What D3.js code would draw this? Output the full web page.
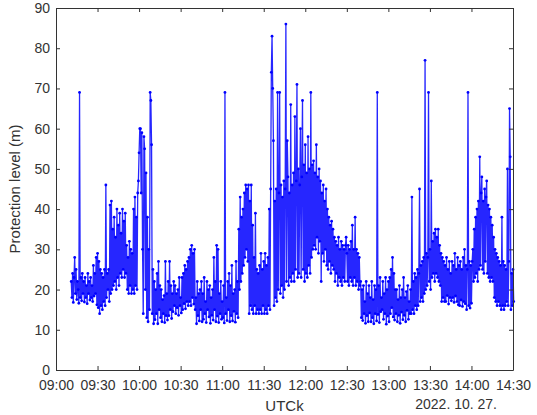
<!DOCTYPE html>
<html>
<head>
<meta charset="utf-8">
<script src="https://cdn.jsdelivr.net/npm/d3@7"></script>
<style>
  body { margin: 0; background: #fff; }
  .axis text { font-family: "Liberation Sans", Arial, sans-serif; font-size: 14px; fill: #333; }
  .axis path, .axis line { stroke: #333; }
  .axis-title { font-family: "Liberation Sans", Arial, sans-serif; fill: #333; }
</style>
</head>
<body>
<div class="pl-div"></div>
<script>
// x tick labels (every 30 minutes) and y ticks
const xTickLabels = ["09:00", "09:30", "10:00", "10:30", "11:00", "11:30",
  "12:00", "12:30", "13:00", "13:30", "14:00", "14:30"];
const yTicks = [0, 10, 20, 30, 40, 50, 60, 70, 80, 90];
const dateLabel = "2022. 10. 27.";
const xTitle = "UTCk";
const yTitle = "Protection level (m)";

// protection level (m), one row = 5 minutes, one value every 30 s, first row starts 09:11
const firstRow = "09:11";
const levelRows = [
  [22, 18, 24, 16.8, 23, 28, 19, 25, 17.5, 22], // 09:11
  [20, 16.6, 69, 18, 23, 17.2, 24, 19, 22, 16.9], // 09:16
  [23, 18, 21, 16.5, 24, 19, 22, 17.4, 23, 18], // 09:21
  [21, 17, 26, 18.4, 24, 19, 28, 16.2, 29, 15.5], // 09:26
  [27, 14, 25, 16, 24, 15, 23, 17, 25, 16], // 09:31
  [46, 18, 24, 20, 25, 17, 41, 19, 42, 20], // 09:36
  [35, 21, 38, 22, 33, 20, 40, 23, 36, 21], // 09:41
  [39, 24, 34, 23, 40, 25, 37, 23, 39, 24], // 09:46
  [31, 20, 28, 19, 32, 21, 30, 19, 29, 20], // 09:51
  [40, 19, 43, 21, 38, 20, 44, 47, 54, 60], // 09:56
  [60, 44, 59, 30, 14, 58, 55, 20, 49, 13], // 10:01
  [38, 12, 30, 15, 69, 67, 56, 14, 25, 11.5], // 10:06
  [22, 12.5, 20, 14, 24, 11.5, 27, 15, 21, 13], // 10:11
  [20, 12, 17.5, 14, 18.5, 11.8, 27, 13.5, 19, 12.4], // 10:16
  [22, 13.5, 27, 15, 21, 12.8, 19, 14.5, 22, 16], // 10:21
  [21, 14, 19, 15.5, 20, 13.6, 23, 16, 18, 14.2], // 10:26
  [23, 15, 24, 16.5, 26, 15.2, 25, 17, 27, 16], // 10:31
  [28, 17, 30, 16, 31, 18, 29, 16.4, 30, 15], // 10:36
  [18, 11.5, 22, 13.5, 19, 12.2, 20, 15, 22, 12], // 10:41
  [19, 12.6, 23, 14, 17, 11.8, 22, 15, 20, 13.2], // 10:46
  [21, 11.6, 18, 13.6, 20, 12.4, 28, 15, 22, 12], // 10:51
  [31, 13.4, 30, 11.8, 19, 14, 22, 12.6, 17, 13], // 10:56
  [21, 11.7, 69, 14, 18, 12.3, 22, 15, 24, 12], // 11:01
  [21, 13.5, 26, 12.2, 19, 14.6, 20, 11.9, 27, 14], // 11:06
  [22, 13, 35, 20, 43, 22, 38, 24, 40, 26], // 11:11
  [44, 28, 46, 30, 45, 27, 46, 14, 42, 16], // 11:16
  [46, 15, 36, 14, 28, 16, 39, 14, 25, 15], // 11:21
  [24, 14, 26, 15, 29, 14, 25, 16, 27, 14], // 11:26
  [29, 15, 26, 14, 28, 16, 40, 15, 45, 74], // 11:31
  [83, 70, 57, 16, 42, 18, 45, 17, 69, 20], // 11:36
  [44, 69, 19, 46, 21, 43, 18, 47, 20, 45], // 11:41
  [86, 22, 57, 48, 21, 44, 23, 66, 22, 46], // 11:46
  [24, 49, 22, 63, 25, 47, 71, 23, 50, 24], // 11:51
  [46, 60, 23, 48, 67, 25, 51, 22, 56, 24], // 11:56
  [49, 23, 58, 26, 50, 24, 69, 28, 51, 30], // 12:01
  [52, 31, 49, 30, 56, 33, 48, 29, 50, 32], // 12:06
  [47, 22, 44, 29, 46, 27, 42, 30, 45, 26], // 12:11
  [40, 25, 38, 27, 36, 24, 37, 26, 35, 25], // 12:16
  [33, 22, 32, 24, 31, 21, 33, 23, 30, 22], // 12:21
  [32, 21, 31, 23, 30, 22, 31, 33, 29, 22], // 12:26
  [31, 21, 30, 23, 32, 22, 36, 21, 30, 23], // 12:31
  [38, 21, 30, 22, 29, 20, 28, 21, 22, 13], // 12:36
  [20, 12.3, 21, 14, 17, 11.6, 22, 13.5, 19, 12], // 12:41
  [21, 14.2, 18, 12, 22, 13, 17.5, 11.5, 21, 14], // 12:46
  [20, 12.2, 69, 13.8, 21, 11.8, 23, 14.5, 18, 15], // 12:51
  [22, 12.6, 19, 14, 23, 11.4, 20, 13.4, 22, 12], // 12:56
  [23, 14, 25, 15.5, 28, 13.2, 24, 12.4, 20, 14], // 13:01
  [20, 12, 17.5, 13.6, 21, 11.6, 18, 14.4, 20, 12.5], // 13:06
  [23, 13.6, 18, 12, 19.5, 14.8, 21, 12.6, 17, 14], // 13:11
  [20, 14, 43, 15, 22, 14, 24, 16, 23, 15], // 13:16
  [25, 16, 24, 45, 17, 26, 18, 27, 17, 28], // 13:21
  [19, 77, 20, 29, 21, 28, 69, 22, 30, 20], // 13:26
  [47, 23, 32, 24, 34, 22, 35, 24, 33, 23], // 13:31
  [35, 22, 31, 21, 29, 17, 28, 18, 27, 17], // 13:36
  [26, 17, 28, 18.5, 25, 16.4, 27, 18, 24, 17.2], // 13:41
  [27, 18, 26, 16.8, 29, 18.4, 25, 17, 28, 16.2], // 13:46
  [26, 16, 27, 17.4, 25, 15.8, 28, 17, 30, 16.5], // 13:51
  [26, 15, 25, 69, 16, 27, 15.4, 26, 16.6, 27], // 13:56
  [30, 22, 35, 23, 38, 24, 40, 22, 42, 25], // 14:01
  [53, 26, 44, 48, 25, 42, 24, 45, 27, 43], // 14:06
  [47, 24, 41, 23, 40, 22, 38, 23, 36, 22], // 14:11
  [33, 18, 30, 17, 29, 16, 28, 17, 27, 16], // 14:16
  [26, 15, 38, 16, 27, 15, 26, 16, 25, 17], // 14:21
  [50, 16, 27, 65, 53, 15, 24, 16, 25, 17]  // 14:26
];

// set the dimensions and margins of the graph
const margin = { top: 8, right: 24, bottom: 45, left: 56 };
var svgWidth = 537;
var svgHeight = 415;
var width = svgWidth - margin.left - margin.right;
var height = svgHeight - margin.top - margin.bottom;

const parseTime = d3.timeParse("%Y-%m-%d %H:%M");
const day = "2022-10-27 ";

// flatten rows into time / value points
const data = [];
const rowStart = parseTime(day + firstRow);
levelRows.forEach((row, r) => {
  row.forEach((v, j) => {
    data.push({ date: d3.timeSecond.offset(rowStart, r * 300 + j * 30), level: v });
  });
});

const xTickTimes = xTickLabels.map(s => parseTime(day + s));

const x = d3.scaleTime()
  .domain([xTickTimes[0], xTickTimes[xTickTimes.length - 1]])
  .range([0, width]);
const y = d3.scaleLinear().domain([0, 90]).range([height, 0]);

const svg = d3.select(".pl-div")
  .append("svg")
  .attr("width", svgWidth)
  .attr("height", svgHeight)
  .append("g")
  .attr("transform", "translate(" + margin.left + "," + margin.top + ")");

// the series line
const valueline = d3.line()
  .x(d => x(d.date))
  .y(d => y(d.level));

svg.append("path")
  .datum(data)
  .attr("fill", "none")
  .attr("stroke", "#0000ff")
  .attr("stroke-opacity", 0.85)
  .attr("stroke-width", 1.3)
  .attr("d", valueline);

// point markers
svg.append("g")
  .selectAll("circle")
  .data(data)
  .join("circle")
  .attr("cx", d => x(d.date))
  .attr("cy", d => y(d.level))
  .attr("r", 1.4)
  .attr("fill", "#0000ff");

// axes, ticks pointing inwards on all four sides
svg.append("g")
  .attr("class", "axis")
  .attr("transform", "translate(0," + height + ")")
  .call(d3.axisBottom(x)
    .tickValues(xTickTimes)
    .tickFormat((d, i) => xTickLabels[i])
    .tickSizeInner(-4)
    .tickSizeOuter(0)
    .tickPadding(10));

svg.append("g")
  .attr("class", "axis")
  .call(d3.axisTop(x)
    .tickValues(xTickTimes)
    .tickFormat("")
    .tickSizeInner(-4)
    .tickSizeOuter(0));

svg.append("g")
  .attr("class", "axis")
  .call(d3.axisLeft(y)
    .tickValues(yTicks)
    .tickSizeInner(-4)
    .tickSizeOuter(0)
    .tickPadding(6));

svg.append("g")
  .attr("class", "axis")
  .attr("transform", "translate(" + width + ",0)")
  .call(d3.axisRight(y)
    .tickValues(yTicks)
    .tickFormat("")
    .tickSizeInner(-4)
    .tickSizeOuter(0));

// axis titles
svg.append("text")
  .attr("class", "axis-title")
  .attr("x", width / 2)
  .attr("y", height + 41)
  .attr("text-anchor", "middle")
  .style("font-size", "15px")
  .text(xTitle);

svg.append("text")
  .attr("class", "axis-title")
  .attr("x", 441)
  .attr("y", height + 39)
  .attr("text-anchor", "end")
  .style("font-size", "14px")
  .text(dateLabel);

svg.append("text")
  .attr("class", "axis-title")
  .attr("transform", "rotate(-90)")
  .attr("x", -height / 2)
  .attr("y", -36)
  .attr("text-anchor", "middle")
  .style("font-size", "15px")
  .text(yTitle);
</script>
</body>
</html>
